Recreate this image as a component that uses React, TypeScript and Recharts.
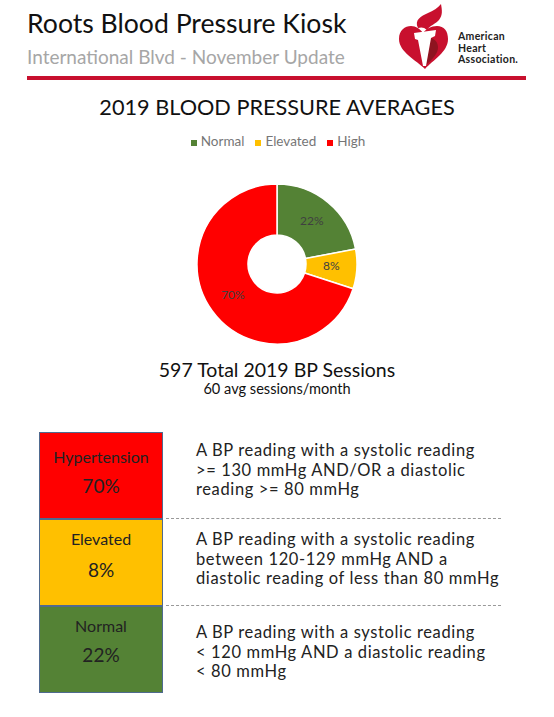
import { PieChart, Pie, Cell, Legend } from 'recharts'

const FONT = 'Lato, sans-serif'

const LEGEND_NAMES = ['Normal', 'Elevated', 'High']
const SHARES = [22, 8, 70]
const COLORS = ['#548235', '#FFC000', '#FF0000']

const CATEGORY_NAMES = ['Hypertension', 'Elevated', 'Normal']
const CATEGORY_VALUES = ['70%', '8%', '22%']
const CATEGORY_COLORS = ['#FF0000', '#FFC000', '#548235']
const CATEGORY_TEXT = [
  ['A BP reading with a systolic reading', '>= 130 mmHg AND/OR a diastolic', 'reading >= 80 mmHg'],
  ['A BP reading with a systolic reading', 'between 120-129 mmHg AND a', 'diastolic reading of less than 80 mmHg'],
  ['A BP reading with a systolic reading', '< 120 mmHg AND a diastolic reading', '< 80 mmHg'],
]

const pieData = LEGEND_NAMES.map((name, i) => ({ name, value: SHARES[i] }))

const RADIAN = Math.PI / 180

const renderLabel = ({ cx, cy, midAngle, innerRadius, outerRadius, value }: any) => {
  const r = (innerRadius + outerRadius) / 2
  const x = cx + r * Math.cos(-midAngle * RADIAN)
  const y = cy + r * Math.sin(-midAngle * RADIAN) - 1.5
  return (
    <text x={x} y={y} textAnchor="middle" dominantBaseline="central" fontSize={12} fill="#404040" fontFamily={FONT}>
      {value}%
    </text>
  )
}

function Text({ x, y, size, color = '#111', children, w, center, spacing = 0, weight = 400 }: any) {
  return (
    <div
      style={{
        position: 'absolute',
        left: x,
        top: y,
        width: w,
        fontSize: size,
        fontWeight: weight,
        letterSpacing: spacing,
        lineHeight: 1,
        color,
        whiteSpace: 'nowrap',
        textAlign: center ? 'center' : 'left',
      }}
    >
      {children}
    </div>
  )
}

// heart and torch mark, svg coordinates are page pixels
function Logo() {
  return (
    <svg width={60} height={76} viewBox="394 0 60 76" style={{ position: 'absolute', left: 394, top: 0 }}>
      <path
        d="M425 69 C416 60 399 52 399 39 C399 30 405 26 411 26 C416 26 420 29 423 33 C426 29 431 26 437 26 C444 26 448 31 448 39 C448 52 433 60 425 69 Z"
        fill="#C8102E"
      />
      <path d="M431 38 C438 40 440 48 436 54 C434 58 430 61 426 65 Z" fill="#8E1420" />
      <path d="M414 33 L436 30 L435 36 L431 38 L426 66 L423 66 L418 40 L415 39 Z" fill="#fff" />
      <path d="M418 28 C414 20 421 16 428 13 C433 11 438 8 441 4 C442 10 443 15 439 20 C436 24 430 25 427 30 C424 27 421 27 418 28 Z" fill="#C8102E" />
    </svg>
  )
}

export default function App() {
  return (
    <div style={{ position: 'absolute', left: 0, top: 0, width: 554, height: 717, background: '#fff', fontFamily: FONT, overflow: 'hidden' }}>
      <Text x={27} y={10} size={26.6}>Roots Blood Pressure Kiosk</Text>
      <Text x={27} y={47} size={19} color="#a6a6a6">International Blvd - November Update</Text>
      <Logo />
      <Text x={458} y={31} size={10.5} spacing={0.3} weight={700} color="#222">American</Text>
      <Text x={458} y={42.5} size={10.5} spacing={0.3} weight={700} color="#222">Heart</Text>
      <Text x={458} y={54} size={10.5} spacing={0.3} weight={700} color="#222">Association.</Text>
      <div style={{ position: 'absolute', left: 27, top: 76, width: 499, height: 4, background: '#C8102E' }} />
      <Text x={0} y={97} w={554} size={21.7} center>2019 BLOOD PRESSURE AVERAGES</Text>

      <div style={{ position: 'absolute', left: 0, top: 130 }}>
        <PieChart width={554} height={220} margin={{ top: 0, right: 0, bottom: 0, left: 0 }}>
          <Legend
            verticalAlign="top"
            align="center"
            iconType="square"
            iconSize={6}
            itemSorter={null}
            wrapperStyle={{ top: 3, fontSize: 13.5, fontFamily: FONT, paddingLeft: 13, boxSizing: 'border-box' }}
            formatter={(value: string) => <span style={{ color: '#767676', marginRight: 1 }}>{value}</span>}
          />
          <Pie
            data={pieData}
            dataKey="value"
            nameKey="name"
            cx={277}
            cy={118}
            innerRadius={29}
            outerRadius={80}
            startAngle={90}
            endAngle={-270}
            stroke="#fff"
            strokeWidth={1.5}
            label={renderLabel}
            labelLine={false}
            isAnimationActive={false}
          >
            {pieData.map((d, i) => (
              <Cell key={d.name} fill={COLORS[i]} />
            ))}
          </Pie>
        </PieChart>
      </div>

      <Text x={0} y={360} w={554} size={19.5} center>597 Total 2019 BP Sessions</Text>
      <Text x={0} y={382} w={554} size={14.6} center>60 avg sessions/month</Text>

      {CATEGORY_NAMES.map((name, i) => {
        const tops = [432, 519, 606]
        const heights = [87, 87, 87]
        const textTops = [442, 531, 624]
        const nameTops = [449, 531, 618]
        const valueTops = [476, 560, 645]
        return (
          <div key={name}>
            <div
              style={{
                position: 'absolute',
                left: 39,
                top: tops[i],
                width: 124,
                height: heights[i],
                boxSizing: 'border-box',
                background: CATEGORY_COLORS[i],
                border: '1px solid #4f6a8f',
              }}
            />
            <Text x={39} y={nameTops[i]} w={124} size={16} center color="#222">{name}</Text>
            <Text x={39} y={valueTops[i]} w={124} size={19} center color="#222">{CATEGORY_VALUES[i]}</Text>
            {CATEGORY_TEXT[i].map((line, j) => (
              <Text key={j} x={196} y={textTops[i] + j * 19.5} size={16.5} spacing={0.62} color="#222">{line}</Text>
            ))}
            {i < 2 && (
              <div style={{ position: 'absolute', left: 166, top: tops[i + 1] - 1, width: 335, borderTop: '1px dashed #999' }} />
            )}
          </div>
        )
      })}
    </div>
  )
}
